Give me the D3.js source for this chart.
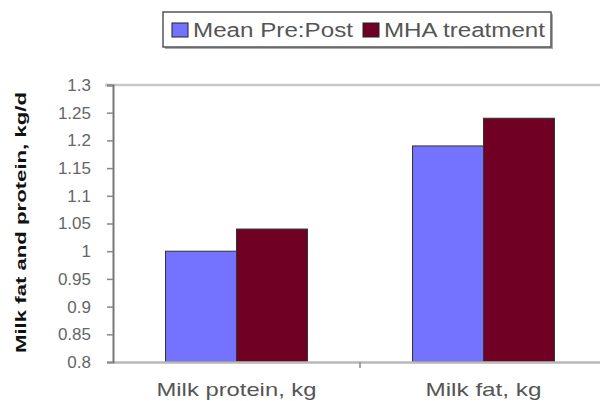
<!DOCTYPE html>
<html><head><meta charset="utf-8">
<script src="https://cdn.jsdelivr.net/npm/d3@7"></script>
<style>body{margin:0;background:#fff}svg{display:block}</style>
</head><body>
<script>
const categories = ["Milk protein, kg", "Milk fat, kg"];
const seriesNames = ["Mean Pre:Post", "MHA treatment"];
const meanPrePost = [1.0, 1.19];
const mhaTreatment = [1.04, 1.24];
const yTicks = [0.8, 0.85, 0.9, 0.95, 1, 1.05, 1.1, 1.15, 1.2, 1.25, 1.3];
const colors = ["#7373ff", "#700024"];

(function () {
const W = 600, H = 401;
const svg = d3.select("body").append("svg").attr("width", W).attr("height", H);
const FONT = "Liberation Sans, Arial, sans-serif";

const pl = 113, pr = 607, pt = 85, pb = 362;
const x = d3.scaleBand().domain(categories).range([pl, pr]).paddingInner(0).paddingOuter(0);
const xs = d3.scaleBand().domain(seriesNames).range([0, x.bandwidth()]).paddingInner(0).paddingOuter(0.74);
const y = d3.scaleLinear().domain([0.8, 1.3]).range([pb, pt]);

// top border of plot area
svg.append("line").attr("x1", 105).attr("x2", W).attr("y1", y(1.3)).attr("y2", y(1.3))
  .attr("stroke", "#c8c8c8").attr("stroke-width", 2.5);

const series = [meanPrePost, mhaTreatment];
const data = [];
categories.forEach((c, i) => seriesNames.forEach((s, j) => data.push({c, s, v: series[j][i], j})));

svg.append("g").selectAll("rect").data(data).join("rect")
  .attr("x", d => x(d.c) + xs(d.s))
  .attr("width", xs.bandwidth())
  .attr("y", d => y(d.v))
  .attr("height", d => y(0.8) - y(d.v))
  .attr("fill", d => colors[d.j])
  .attr("stroke", "#333")
  .attr("stroke-width", 1);

// x axis
const xAxis = svg.append("g").attr("transform", `translate(0,${pb})`)
  .call(d3.axisBottom(x).tickSize(0).tickPadding(21));
xAxis.select(".domain").attr("stroke", "#b8b8b8").attr("stroke-width", 2.5);
xAxis.selectAll(".tick text").attr("fill", "#555").attr("font-family", FONT).attr("font-size", 19)
  .attr("textLength", (d, i) => i === 0 ? 160 : 116).attr("lengthAdjust", "spacingAndGlyphs");
svg.append("line").attr("x1", x(categories[1])).attr("x2", x(categories[1]))
  .attr("y1", pb).attr("y2", pb + 6).attr("stroke", "#888").attr("stroke-width", 1.5);

// y axis
const yAxis = svg.append("g").attr("transform", `translate(${pl},0)`)
  .call(d3.axisLeft(y).tickValues(yTicks).tickSize(6).tickPadding(16).tickFormat(d => String(d)));
yAxis.select(".domain").attr("stroke", "#777").attr("stroke-width", 2);
yAxis.selectAll(".tick line").attr("stroke", "#888").attr("stroke-width", 1.5);
yAxis.selectAll(".tick text").attr("fill", "#666").attr("font-family", FONT).attr("font-size", 17);

// y title
svg.append("text").attr("transform", `translate(26,${(92 + 353) / 2}) rotate(-90)`)
  .attr("text-anchor", "middle").attr("font-family", FONT)
  .attr("font-weight", "bold").attr("font-size", 15).attr("fill", "#111")
  .attr("textLength", 261).attr("lengthAdjust", "spacingAndGlyphs")
  .text("Milk fat and protein, kg/d");

// legend
const lg = svg.append("g");
lg.append("rect").attr("x", 165).attr("y", 14).attr("width", 388).attr("height", 35).attr("fill", "#aaa");
lg.append("rect").attr("x", 163).attr("y", 12).attr("width", 388).attr("height", 35).attr("fill", "#fff").attr("stroke", "#555").attr("stroke-width", 1.5);
const items = [{x: 172, tx: 193, len: 160}, {x: 363, tx: 384, len: 161}];
seriesNames.forEach((s, i) => {
  lg.append("rect").attr("x", items[i].x).attr("y", 23).attr("width", 16).attr("height", 14)
    .attr("fill", colors[i]).attr("stroke", "#222").attr("stroke-width", 1);
  lg.append("text").attr("x", items[i].tx).attr("y", 37).attr("font-family", FONT)
    .attr("font-size", 20).attr("fill", "#555")
    .attr("textLength", items[i].len).attr("lengthAdjust", "spacingAndGlyphs").text(s);
});
})();
</script>
</body></html>
